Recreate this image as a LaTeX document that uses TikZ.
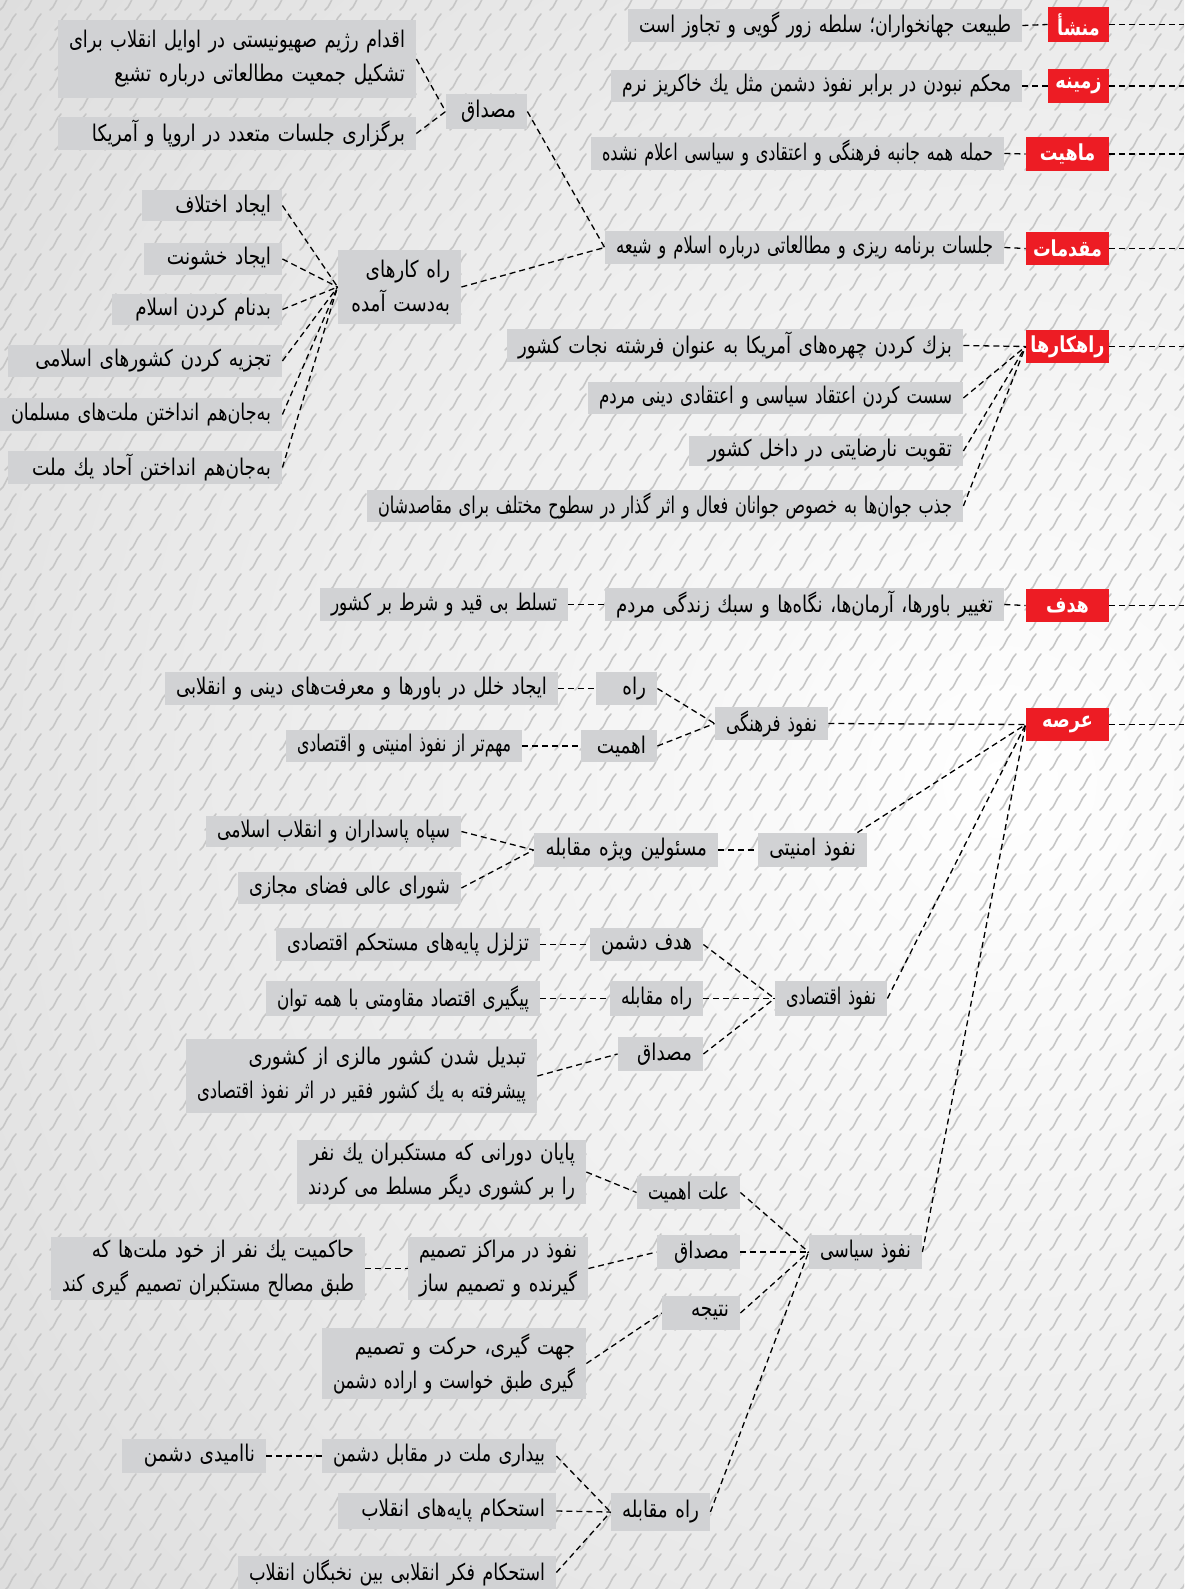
\documentclass[tikz,border=0pt]{standalone}
\usepackage{fontspec}
\newfontfamily\fafont[Script=Arabic,FakeStretch=0.8]{DejaVu Sans}
\TeXXeTstate=1
\usetikzlibrary{calc}
\definecolor{boxgray}{HTML}{D1D2D4}
\definecolor{redbox}{HTML}{ED1C24}
\definecolor{bgdark}{HTML}{D8D8D8}
\definecolor{strokegray}{HTML}{C6C6C6}
\newsavebox\fabox
\newdimen\fadim
\newcommand\fa[1]{\setbox\fabox=\hbox{\beginR #1\endR}%
  \ifdim\wd\fabox>\hsize
    \fadim=\wd\fabox
    \pgfmathsetmacro\fasc{\hsize/\fadim}%
    \scalebox{\fasc}[1]{\usebox\fabox}%
  \else\usebox\fabox\fi}
% #1 pad (px, both sides total), #2 style, #3 name, #4-#7 box, #8 text
\newcommand\bx[8]{%
  \pgfmathsetmacro\bxw{(#6-#4)*0.5}%
  \pgfmathsetmacro\bxh{(#7-#5)*0.5}%
  \pgfmathsetmacro\bxs{#1/4}%
  \pgfmathsetmacro\bxt{(#6-#4)*0.5-#1/2}%
  \node[#2, inner xsep=\bxs pt, minimum width=\bxw pt, minimum height=\bxh pt, text width=\bxt pt] (#3) at ({(#4+#6)/2},{(#5+#7)/2}) {#8};%
}
\newcommand\gb{\bx{22}{gbox}}
\newcommand\rb{\bx{6}{rbox}}
\begin{document}
\begin{tikzpicture}[x=0.5pt,y=-0.5pt,
  gbox/.style={fill=boxgray, text=black, inner ysep=1pt, align=right, font=\fafont\fontsize{11.5}{17}\selectfont},
  rbox/.style={fill=redbox, text=white, inner ysep=1pt, align=center, font=\fafont\bfseries\fontsize{11}{14}\selectfont},
  conn/.style={line width=0.65pt, dash pattern=on 3pt off 2pt},
  pat/.style={draw=strokegray, line width=0.8pt, line cap=round}]
\useasboundingbox (0,0) rectangle (1184,1589);
% background
\begin{scope}
\clip (0,0) rectangle (1184,1589);
\fill[bgdark] (0,0) rectangle (1184,1589);
\shade[inner color=white, outer color=bgdark] (1000,780) circle (1500);
\foreach \j in {0,...,80} {
  \foreach \i in {-1,...,47} {
    \pgfmathsetmacro\sx{\i*25+mod(\j,2)*5}
    \pgfmathsetmacro\sy{\j*20+10}
    \draw[pat] (\sx,\sy) .. controls ({\sx+5},{\sy-3}) and ({\sx+6},{\sy-12}) .. ({\sx+11},{\sy-16});
  }
}
\end{scope}

% ---- red headings
\rb{r1}{1048}{7}{1109}{42}{\fa{منشأ}}
\rb{r2}{1048}{69}{1109}{103}{\fa{زمینه}}
\rb{r3}{1026}{137}{1109}{171}{\fa{ماهیت}}
\rb{r4}{1026}{232}{1109}{265}{\fa{مقدمات}}
\rb{r5}{1026}{330}{1109}{363}{\fa{راهکارها}}
\rb{r6}{1026}{589}{1109}{622}{\fa{هدف}}
\rb{r7}{1026}{708}{1109}{741}{\fa{عرصه}}
\coordinate (e1) at (1184,24.5);
\coordinate (e2) at (1184,86);
\coordinate (e3) at (1184,154);
\coordinate (e4) at (1184,248.5);
\coordinate (e5) at (1184,346.5);
\coordinate (e6) at (1184,605.5);
\coordinate (e7) at (1184,724.5);

\gb{g1}{628}{9}{1022}{42}{\fa{طبیعت جهانخواران؛ سلطه زور گویی و تجاوز است}}
\gb{g2}{611}{70}{1022}{102}{\fa{محکم نبودن در برابر نفوذ دشمن مثل یك خاکریز نرم}}
\gb{g3}{591}{137}{1004}{170}{\fa{حمله همه جانبه فرهنگی و اعتقادی و سیاسی اعلام نشده}}
\gb{g4}{605}{231}{1004}{264}{\fa{جلسات برنامه ریزی و مطالعاتی درباره اسلام و شیعه}}

\gb{k1}{507}{329}{963}{362}{\fa{بزك کردن چهره^^^^200cهای آمریکا به عنوان فرشته نجات کشور}}
\gb{k2}{588}{382}{963}{414}{\fa{سست کردن اعتقاد سیاسی و اعتقادی دینی مردم}}
\gb{k3}{689}{436}{963}{466}{\fa{تقویت نارضایتی در داخل کشور}}
\gb{k4}{367}{490}{963}{522}{\fa{جذب جوان^^^^200cها به خصوص جوانان فعال و اثر گذار در سطوح مختلف برای مقاصدشان}}

\gb{a1}{58}{20}{416}{98}{\fa{اقدام رژیم صهیونیستی در اوایل انقلاب برای}\\\fa{تشکیل جمعیت مطالعاتی درباره تشیع}}
\gb{a2}{58}{117}{416}{150}{\fa{برگزاری جلسات متعدد در اروپا و آمریکا}}
\gb{msd}{446}{94}{527}{129}{\fa{مصداق}}
\gb{rk}{338}{250}{461}{324}{\fa{راه کارهای}\\\fa{به^^^^200cدست آمده}}
\gb{b1}{142}{190}{282}{221}{\fa{ایجاد اختلاف}}
\gb{b2}{144}{243}{282}{275}{\fa{ایجاد خشونت}}
\gb{b3}{112}{294}{282}{325}{\fa{بدنام کردن اسلام}}
\gb{b4}{8}{345}{282}{377}{\fa{تجزیه کردن کشورهای اسلامی}}
\gb{b5}{0}{398}{282}{431}{\fa{به^^^^200cجان^^^^200cهم انداختن ملت^^^^200cهای مسلمان}}
\gb{b6}{8}{451}{282}{484}{\fa{به^^^^200cجان^^^^200cهم انداختن آحاد یك ملت}}

% ---- goal
\gb{h1}{605}{588}{1004}{621}{\fa{تغییر باورها، آرمان^^^^200cها، نگاه^^^^200cها و سبك زندگی مردم}}
\gb{h2}{320}{588}{568}{621}{\fa{تسلط بی قید و شرط بر کشور}}

% ---- arena
\gb{nf}{715}{707}{828}{740}{\fa{نفوذ فرهنگی}}
\gb{nf1}{596}{672}{657}{705}{\fa{راه}}
\gb{nf1a}{165}{672}{558}{705}{\fa{ایجاد خلل در باورها و معرفت^^^^200cهای دینی و انقلابی}}
\gb{nf2}{581}{730}{657}{762}{\fa{اهمیت}}
\gb{nf2a}{286}{730}{522}{762}{\fa{مهم^^^^200cتر از نفوذ امنیتی و اقتصادی}}

\gb{na}{758}{833}{867}{867}{\fa{نفوذ امنیتی}}
\gb{na1}{534}{833}{718}{867}{\fa{مسئولین ویژه مقابله}}
\gb{na1a}{206}{816}{461}{847}{\fa{سپاه پاسداران و انقلاب اسلامی}}
\gb{na1b}{238}{872}{461}{904}{\fa{شورای عالی فضای مجازی}}

\gb{ne}{775}{981}{887}{1016}{\fa{نفوذ اقتصادی}}
\gb{ne1}{590}{928}{703}{961}{\fa{هدف دشمن}}
\gb{ne1a}{276}{928}{540}{961}{\fa{تزلزل پایه^^^^200cهای مستحکم اقتصادی}}
\gb{ne2}{610}{981}{703}{1016}{\fa{راه مقابله}}
\gb{ne2a}{266}{981}{540}{1016}{\fa{پیگیری اقتصاد مقاومتی با همه توان}}
\gb{ne3}{618}{1037}{703}{1071}{\fa{مصداق}}
\gb{ne3a}{186}{1039}{537}{1113}{\fa{تبدیل شدن کشور مالزی از کشوری}\\\fa{پیشرفته به یك کشور فقیر در اثر نفوذ اقتصادی}}

\gb{ns}{809}{1235}{922}{1269}{\fa{نفوذ سیاسی}}
\gb{ns1}{637}{1176}{740}{1209}{\fa{علت اهمیت}}
\gb{ns1a}{297}{1140}{586}{1204}{\fa{پایان دورانی که مستکبران یك نفر}\\\fa{را بر کشوری دیگر مسلط می کردند}}
\gb{ns2}{657}{1235}{740}{1269}{\fa{مصداق}}
\gb{ns2a}{408}{1237}{588}{1300}{\fa{نفوذ در مراکز تصمیم}\\\fa{گیرنده و تصمیم ساز}}
\gb{ns2b}{51}{1237}{365}{1300}{\fa{حاکمیت یك نفر از خود ملت^^^^200cها که}\\\fa{طبق مصالح مستکبران تصمیم گیری کند}}
\gb{ns3}{662}{1296}{740}{1330}{\fa{نتیجه}}
\gb{ns3a}{322}{1328}{586}{1399}{\fa{جهت گیری، حرکت و تصمیم}\\\fa{گیری طبق خواست و اراده دشمن}}

\gb{rm}{611}{1493}{710}{1531}{\fa{راه مقابله}}
\gb{rm1}{322}{1439}{556}{1473}{\fa{بیداری ملت در مقابل دشمن}}
\gb{rm1a}{122}{1439}{266}{1473}{\fa{ناامیدی دشمن}}
\gb{rm2}{338}{1493}{556}{1529}{\fa{استحکام پایه^^^^200cهای انقلاب}}
\gb{rm3}{238}{1556}{556}{1589}{\fa{استحکام فکر انقلابی بین نخبگان انقلاب}}

% ---- connectors
\draw[conn] (g1.east) -- (r1.west);
\draw[conn] (g2.east) -- (r2.west);
\draw[conn] (g3.east) -- (r3.west);
\draw[conn] (g4.east) -- (r4.west);
\draw[conn] (r1.east) -- (e1);
\draw[conn] (r2.east) -- (e2);
\draw[conn] (r3.east) -- (e3);
\draw[conn] (r4.east) -- (e4);
\draw[conn] (r5.east) -- (e5);
\draw[conn] (r6.east) -- (e6);
\draw[conn] (r7.east) -- (e7);
\foreach \k in {k1,k2,k3,k4} \draw[conn] (\k.east) -- (r5.west);
\draw[conn] (a1.east) -- (msd.west);
\draw[conn] (a2.east) -- (msd.west);
\draw[conn] (msd.east) -- (g4.west);
\draw[conn] (rk.east) -- (g4.west);
\foreach \k in {b1,b2,b3,b4,b5,b6} \draw[conn] (\k.east) -- (rk.west);
\draw[conn] (h1.east) -- (r6.west);
\draw[conn] (h2.east) -- (h1.west);
\draw[conn] (nf.east) -- (r7.west);
\draw[conn] ($(na.north east)+(-10,0)$) -- (r7.west);
\draw[conn] (ne.east) -- (r7.west);
\draw[conn] (ns.east) -- (r7.west);
\draw[conn] (nf1.east) -- (nf.west);
\draw[conn] (nf2.east) -- (nf.west);
\draw[conn] (nf1a.east) -- (nf1.west);
\draw[conn] (nf2a.east) -- (nf2.west);
\draw[conn] (na1.east) -- (na.west);
\draw[conn] (na1a.east) -- (na1.west);
\draw[conn] (na1b.east) -- (na1.west);
\foreach \k in {ne1,ne2,ne3} \draw[conn] (\k.east) -- (ne.west);
\draw[conn] (ne1a.east) -- (ne1.west);
\draw[conn] (ne2a.east) -- (ne2.west);
\draw[conn] (ne3a.east) -- (ne3.west);
\foreach \k in {ns1,ns2,ns3,rm} \draw[conn] (\k.east) -- (ns.west);
\draw[conn] (ns1a.east) -- (ns1.west);
\draw[conn] (ns2a.east) -- (ns2.west);
\draw[conn] (ns2b.east) -- (ns2a.west);
\draw[conn] (ns3a.east) -- (ns3.west);
\foreach \k in {rm1,rm2,rm3} \draw[conn] (\k.east) -- (rm.west);
\draw[conn] (rm1a.east) -- (rm1.west);
\end{tikzpicture}
\end{document}
